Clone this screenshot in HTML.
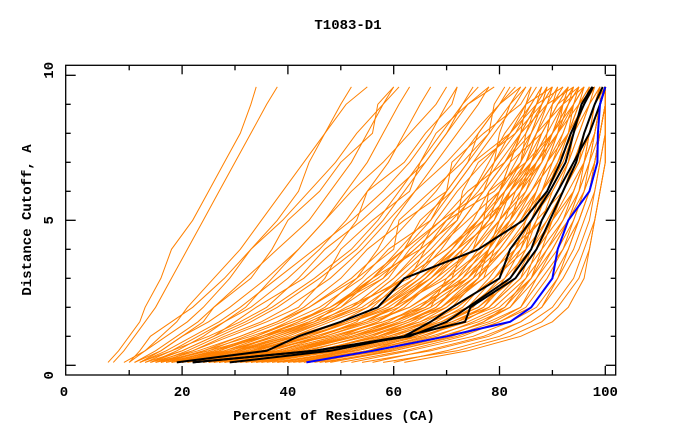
<!DOCTYPE html>
<html><head><meta charset="utf-8"><style>
html,body{margin:0;padding:0;background:#fff;}
svg{display:block;font-family:"Liberation Mono",monospace;font-weight:bold;}
</style></head><body>
<svg id="chart" width="680" height="440" viewBox="0 0 680 440" xmlns="http://www.w3.org/2000/svg">
<text x="348" y="29" font-size="14" text-anchor="middle">T1083-D1</text>
<text x="334" y="420" font-size="14" text-anchor="middle">Percent of Residues (CA)</text>
<text x="0" y="0" font-size="14" text-anchor="middle" transform="translate(31,220) rotate(-90)">Distance Cutoff, A</text>
<g id="series"></g>
<g id="axes"></g>
</svg>
<script>
const levels=[0.1,0.5,1,1.5,2,3,4,5,6,7,8,9,9.6];
const xTicks=[0,20,40,60,80,100];
const yTicks=[0,5,10];
const orange=[
[6,8,10,12,13,16,18,22,25,28,31,33,34],
[7,9,11,13,15,18,21,24,27,30,33,36,38],
[10,13,16,19,21,26,31,35,39,43,47,51,55],
[10,12,14,18,22,28,33,38,42,44,47,50,52],
[11,15,19,23,26,32,38,44,48,52,55,58,60],
[12,16,20,25,29,36,42,47,51,55,58,61,63],
[13,18,23,28,33,40,46,51,55,59,62,65,67],
[14,19,24,28,32,37,42,47,52,58,63,68,70],
[15,21,27,33,38,46,53,58,62,66,70,73,75],
[16,22,28,35,40,48,54,59,64,68,72,76,78],
[17,24,31,38,44,52,58,63,68,72,76,80,82],
[18,26,34,41,48,56,62,67,71,75,79,83,85],
[19,27,35,42,47,53,57,60,64,70,75,80,83],
[20,29,37,44,50,58,64,70,75,79,82,85,87],
[21,30,39,47,54,62,68,73,77,81,84,87,89],
[22,32,42,50,57,65,71,76,80,84,87,90,92],
[23,33,43,52,59,67,73,78,82,86,89,92,94],
[24,35,45,54,61,69,75,80,84,88,91,94,96],
[25,36,47,56,63,71,77,82,86,90,93,95,97],
[26,38,49,58,65,73,79,84,88,92,94,96,98],
[27,39,50,60,67,75,81,86,90,93,95,97,99],
[28,41,52,62,69,77,83,88,91,94,96,98,100],
[30,43,55,65,72,79,85,89,92,95,97,99,100],
[32,45,57,67,74,81,86,90,93,96,98,99,100],
[34,47,59,69,76,83,87,91,94,96,98,99,100],
[36,49,61,71,78,84,88,92,95,97,98,99,100],
[38,51,63,72,79,85,89,93,95,97,99,100,100],
[40,53,65,74,80,86,90,93,96,98,99,100,100],
[42,55,67,76,82,87,91,94,96,98,99,100,100],
[45,57,69,78,84,88,92,95,97,98,99,100,100],
[48,60,72,80,86,90,93,95,97,98,99,100,100],
[52,63,75,82,87,91,94,96,98,99,100,100,100],
[56,66,77,84,88,92,95,97,98,99,100,100,100],
[60,70,80,86,90,94,96,98,99,100,100,100,100],
[15,25,35,45,52,62,70,76,81,85,88,91,93],
[20,33,45,55,63,72,78,82,85,88,90,92,94],
[25,40,52,60,66,72,76,80,84,87,90,93,95],
[18,28,38,46,53,60,65,68,72,77,82,86,88],
[30,45,58,66,71,76,80,84,88,91,94,96,98],
[12,17,22,27,31,38,45,52,58,63,67,70,72],
[35,50,62,70,75,80,83,86,89,92,94,96,97],
[40,55,66,73,78,83,86,89,92,94,96,98,99],
[22,35,48,58,66,74,80,84,87,89,91,93,94],
[28,40,50,57,62,68,73,78,83,87,90,93,95],
[17,26,36,44,50,56,61,66,70,74,78,82,84],
[14,20,26,32,37,45,52,57,61,65,69,73,76],
[50,62,73,80,85,89,92,94,96,97,98,99,100],
[24,34,44,52,58,66,72,77,81,84,86,88,90],
[33,46,56,63,68,74,79,83,86,89,92,94,96],
[19,30,41,50,57,64,69,73,77,81,85,88,90],
[26,37,46,54,60,67,72,76,80,83,86,89,91],
[31,44,54,62,69,76,81,85,88,91,93,95,96],
[44,58,70,77,82,86,89,92,94,96,97,98,99],
[16,24,33,41,48,57,64,70,75,79,83,86,88],
[21,31,40,47,53,60,66,71,76,80,84,87,89],
[9,13,17,21,24,29,33,39,44,49,53,58,61],
[11,16,20,24,26,33,37,40,46,50,56,57,60],
[13,20,26,30,34,43,49,53,55,62,66,71,72],
[14,22,29,36,42,47,50,56,63,65,68,74,79],
[16,25,32,39,44,53,60,61,67,73,78,79,81],
[18,29,38,45,49,56,65,72,73,76,83,88,89],
[20,31,39,46,51,63,66,70,79,84,85,87,92],
[23,36,46,53,56,62,70,77,78,82,88,91,93],
[25,38,49,57,61,68,75,77,83,88,89,90,91],
[27,40,51,59,64,74,78,80,85,87,91,95,97],
[29,42,53,61,67,70,77,83,87,89,93,95,98],
[33,48,60,68,73,78,82,88,90,93,95,97,98],
[37,52,64,72,77,81,84,87,92,95,96,98,99],
[41,56,68,75,81,86,88,90,94,96,97,98,100],
[46,60,71,79,84,87,90,93,95,96,98,99,99],
[54,67,78,84,88,91,93,95,97,98,99,100,100],
[58,72,82,88,91,95,97,98,99,100,100,100,100],
[62,74,84,90,93,96,97,98,99,100,100,100,100],
[19,28,36,42,48,58,62,65,71,75,82,87,88],
[22,30,37,45,52,59,63,69,74,81,86,88,89],
[24,33,41,48,55,64,68,74,80,82,84,89,94],
[27,36,44,51,58,65,72,79,81,86,89,90,93],
[29,38,47,55,60,66,71,75,78,85,90,94,96],
[32,42,52,60,65,71,73,78,82,85,87,92,96],
[35,46,57,65,70,77,79,82,84,86,90,92,94],
[39,51,61,69,74,79,84,86,88,90,93,96,98],
[43,55,64,71,77,82,85,86,89,91,94,97,99],
[47,59,70,77,81,85,87,90,92,95,97,99,100],
[12,18,25,31,36,42,47,54,60,66,70,74,78],
[15,23,31,38,43,50,55,62,70,74,76,80,84],
[17,27,34,40,46,54,59,67,70,71,77,84,86],
[20,27,35,43,49,55,62,69,77,79,80,82,85],
[23,34,43,50,55,61,67,72,75,78,81,85,90],
[26,41,53,62,68,73,77,81,83,86,88,91,95],
[30,46,57,64,69,75,78,80,82,87,91,93,95],
[34,49,61,70,76,82,85,87,89,91,93,94,96],
[38,53,65,73,78,84,86,88,91,93,94,96,97],
[18,31,42,51,58,67,74,78,80,82,84,85,86],
[21,34,44,52,60,70,75,79,82,85,87,89,90],
[28,43,55,63,70,76,78,81,86,90,92,94,95],
[31,47,59,67,72,79,83,85,87,89,91,92,93]
];
const black1=[19,36,42,50,57,62,76,84.5,89,91.5,93.5,96,97.7];
const black2=[22,45,62,73.5,74.5,83,87,89.5,92,94.5,96,98,99.5];
const black3=[29,48,62,67,71,80,82,86,89.5,92.5,94,95.5,97.5];
const black4=[22,45,63,70,74,82,86,88,91,94,97,99,100];
const blueSeries=[43.5,56,70,82,86,90,91,93,97,98.5,98.6,99,100];

const NS="http://www.w3.org/2000/svg";
const X0=76.3,XS=5.29,Y0=365.3,YS=29;
function xs(v){return X0+v*XS;}
function ys(v){return Y0-v*YS;}
const L=65.7,R=615.7,T=65.3,B=375;
const g=document.getElementById('series');
function drawLine(vals,color,w,name){
  const p=document.createElementNS(NS,'polyline');
  p.setAttribute('points',vals.map((v,i)=>xs(v).toFixed(1)+','+ys(levels[i]).toFixed(1)).join(' '));
  p.setAttribute('fill','none');
  p.setAttribute('stroke',color);
  p.setAttribute('stroke-width',w);
  
  
  g.appendChild(p);
}
orange.forEach((c,i)=>drawLine(c,'#ff8000',1,'model-line-'+(i+1)));
drawLine(black1,'#000',2,'black-line-1');
drawLine(black2,'#000',2,'black-line-2');
drawLine(black3,'#000',2,'black-line-3');
drawLine(black4,'#000',2,'black-line-4');
drawLine(blueSeries,'#0000ff',2,'blue-line');

const a=document.getElementById('axes');
function ln(x1,y1,x2,y2,name){
  const l=document.createElementNS(NS,'line');
  l.setAttribute('x1',x1);
  l.setAttribute('y1',y1);
  l.setAttribute('x2',x2);
  l.setAttribute('y2',y2);
  l.setAttribute('stroke','#000');
  l.setAttribute('stroke-width',1.3);
  
  
  a.appendChild(l);
}
function tx(x,y,s,name,rot){
  const t=document.createElementNS(NS,'text');
  t.setAttribute('font-size','14');
  t.setAttribute('text-anchor','middle');
  if(rot){t.setAttribute('transform','translate('+x+','+y+') rotate(-90)');}
  else{t.setAttribute('x',x);t.setAttribute('y',y);}
  t.textContent=s;
  
  
  a.appendChild(t);
}
const box=document.createElementNS(NS,'rect');
box.setAttribute('x',L);
box.setAttribute('y',T);
box.setAttribute('width',R-L);
box.setAttribute('height',B-T);
box.setAttribute('fill','none');
box.setAttribute('stroke','#000');
box.setAttribute('stroke-width',1.3);


a.appendChild(box);
for(let v=10;v<=100;v+=10){
  const len=(v%20===0)?9:5;
  ln(xs(v),B,xs(v),B-len,'x-tick-'+v);
  ln(xs(v),T,xs(v),T+len,'x-tick-top-'+v);
}
for(let v=0;v<=10;v++){
  const len=(v%5===0)?10:5;
  ln(L,ys(v),L+len,ys(v),'y-tick-'+v);
  ln(R,ys(v),R-len,ys(v),'y-tick-right-'+v);
}
xTicks.forEach(v=>{tx(v===0?64:xs(v),396,String(v),'x-tick-label-'+v,false);});
yTicks.forEach(v=>{tx(53,v===0?ys(v)+10:(v===10?ys(v)-5:ys(v)),String(v),'y-tick-label-'+v,true);});
</script>
</body></html>
